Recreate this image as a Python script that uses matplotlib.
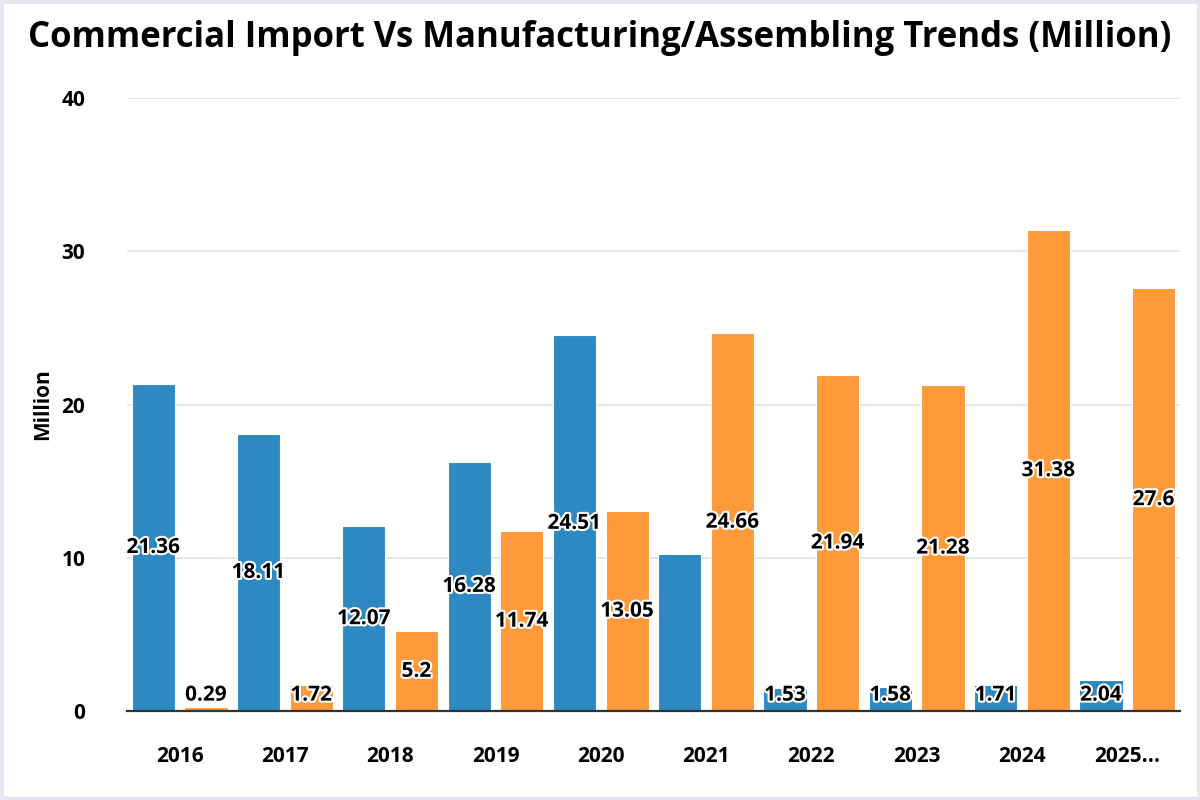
import matplotlib
matplotlib.use("Agg")
import matplotlib.pyplot as plt
import matplotlib.patheffects as pe
import numpy as np

plt.rcParams['font.family'] = ['Open Sans', 'DejaVu Sans']

# data
years = ['2016', '2017', '2018', '2019', '2020', '2021', '2022', '2023', '2024', '2025...']
commercial = [21.36, 18.11, 12.07, 16.28, 24.51, 10.26, 1.53, 1.58, 1.71, 2.04]
manufacturing = [0.29, 1.72, 5.2, 11.74, 13.05, 24.66, 21.94, 21.28, 31.38, 27.6]
# the 2021 commercial bar carries no label in the original
commercial_labels = ['21.36', '18.11', '12.07', '16.28', '24.51', '', '1.53', '1.58', '1.71', '2.04']
manufacturing_labels = ['0.29', '1.72', '5.2', '11.74', '13.05', '24.66', '21.94', '21.28', '31.38', '27.6']

blue = '#2E88C2'
orange = '#FF9A3A'

fig = plt.figure(figsize=(12, 8), dpi=100)
ax = fig.add_axes([0.1058, 0.111, 0.8775, 0.7665])

x = np.arange(len(years))
w = 0.41
b1 = ax.bar(x - 0.25, commercial, w, color=blue, edgecolor='white', linewidth=0.8, zorder=2)
b2 = ax.bar(x + 0.25, manufacturing, w, color=orange, edgecolor='white', linewidth=0.8, zorder=2)

stroke = [pe.withStroke(linewidth=3, foreground='white')]
for bars, labels in [(b1, commercial_labels), (b2, manufacturing_labels)]:
    for rect, lab in zip(bars, labels):
        h = rect.get_height()
        if not lab:
            continue
        ypos = max(h / 2, 1.05)
        ax.text(rect.get_x() + rect.get_width() / 2, ypos, lab, ha='center', va='center',
                fontsize=15, fontweight='bold', color='black', path_effects=stroke, zorder=3)

ax.set_xlim(-0.5, len(years) - 0.5)
ax.set_ylim(0, 40)
ax.set_yticks([0, 10, 20, 30, 40])
ax.set_xticks(x)
ax.set_xticklabels(years)
ax.grid(axis='y', color='#E3E3E3', linewidth=1.2, zorder=0)
ax.set_axisbelow(True)
for s in ['top', 'right', 'left']:
    ax.spines[s].set_visible(False)
ax.spines['bottom'].set_color('#333333')
ax.spines['bottom'].set_linewidth(1.6)
ax.spines['bottom'].set_zorder(4)
ax.tick_params(axis='both', length=0, labelsize=15)
ax.tick_params(axis='x', pad=25)
ax.tick_params(axis='y', pad=30)
for t in ax.get_xticklabels() + ax.get_yticklabels():
    t.set_fontweight('bold')

ax.set_ylabel('Million', fontsize=15, fontweight='bold')
ax.yaxis.set_label_coords(-0.07, 0.5)

fig.text(0.5, 0.952, 'Commercial Import Vs Manufacturing/Assembling Trends (Million)',
         ha='center', va='center', fontsize=25, fontweight='bold')

# thin frame around the picture
fig.patches.append(plt.Rectangle((0, 0), 1, 1, transform=fig.transFigure, fill=False,
                                 edgecolor='#E6E6F2', linewidth=5, zorder=10))
fig.lines.append(plt.Line2D([0, 1], [0.002, 0.002], transform=fig.transFigure,
                            color='#333333', linewidth=1.5))

fig.savefig('out.png', dpi=100)
